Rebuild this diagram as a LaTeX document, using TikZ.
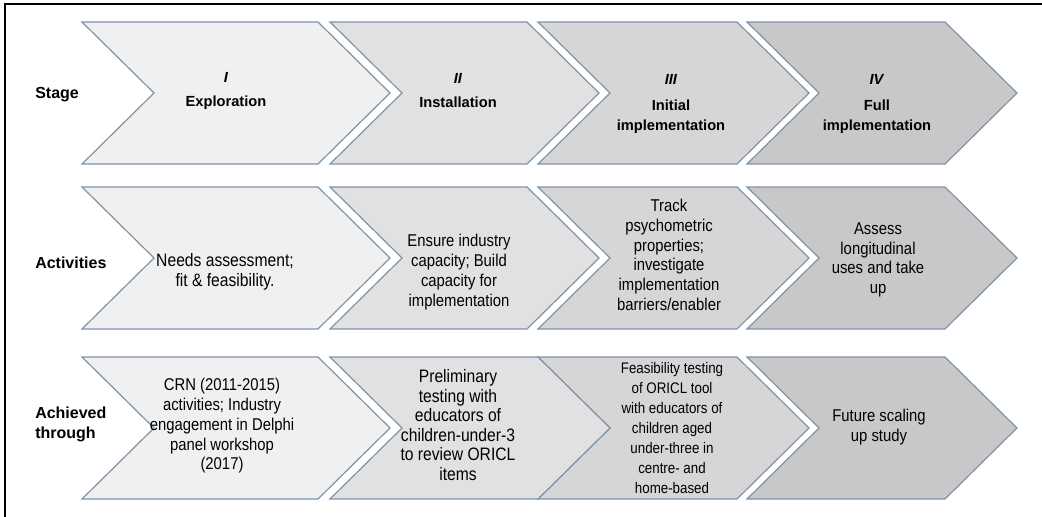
\documentclass[tikz,border=0pt]{standalone}
\usepackage{fontspec}
\setmainfont{Liberation Sans}
\newfontfamily\narrowsans[FakeStretch=0.87]{Liberation Sans}
\definecolor{bordc}{RGB}{127,147,170}
\definecolor{fillA}{RGB}{240,240,240}
\definecolor{fillB}{RGB}{225,225,225}
\definecolor{fillC}{RGB}{214,214,214}
\definecolor{fillD}{RGB}{200,200,200}
\newcommand{\chevshape}[5]{%
  \path[chev, fill=#1] (#2,#4) -- (#3,#4) -- ({#3+72},{(#4+#5)/2}) -- (#3,#5) -- (#2,#5) -- ({#2+72},{(#4+#5)/2}) -- cycle;}
\tikzset{
  chev/.style={draw=bordc, line width=0.9pt, line join=miter},
  lab/.style={font=\bfseries\fontsize{12}{15}\selectfont, anchor=west, align=left, inner sep=0pt},
  stg/.style={font=\bfseries\fontsize{11}{15}\selectfont, align=center, inner sep=0pt},
  txt/.style={font=\narrowsans\fontsize{12.8}{14.8}\selectfont, align=center, inner sep=0pt},
  txtbig/.style={font=\narrowsans\fontsize{13.5}{14.6}\selectfont, align=center, inner sep=0pt},
  txtsm/.style={font=\narrowsans\fontsize{11.5}{15.1}\selectfont, align=center, inner sep=0pt},
}
\begin{document}
\begin{tikzpicture}[x=0.75pt,y=-0.75pt]
\useasboundingbox (0,0) rectangle (1042,517);
\fill[white] (0,0) rectangle (1042,517);
\draw[line width=1.5pt] (5,517) -- (5,4) -- (1042,4);
% Row 1
\chevshape{fillA}{82}{318}{22}{164}
\chevshape{fillB}{330}{527}{22}{164}
\chevshape{fillC}{538}{737}{22}{164}
\chevshape{fillD}{747}{945}{22}{164}
% Row 2
\chevshape{fillA}{82}{318}{187}{329}
\chevshape{fillB}{330}{527}{187}{329}
\chevshape{fillC}{538}{737}{187}{329}
\chevshape{fillD}{747}{945}{187}{329}
% Row 3
\chevshape{fillA}{82}{318}{357}{499}
\chevshape{fillC}{538}{737}{357}{499}
\chevshape{fillB}{330}{538}{357}{499}
\chevshape{fillD}{747}{945}{357}{499}
% Row labels
\node[lab] (lstage) at (35,95) {Stage};
\node[lab] (lact) at (35,263) {Activities};
\node[lab] (lach) at (35,424) {Achieved\\through};
% Stage texts
\node[stg] (s1) at (226,91) {\textit{I}\\[3pt]Exploration};
\node[stg] (s2) at (458,91) {\textit{II}\\[3pt]Installation};
\node[stg] (s3) at (671,104) {\textit{III}\\[5pt]Initial\\implementation};
\node[stg] (s4) at (877,104) {\textit{IV}\\[5pt]Full\\implementation};
% Activities
\node[txtbig] (a1) at (225,272) {Needs assessment;\\fit \& feasibility.};
\node[txt] (a2) at (459,272) {Ensure industry\\capacity; Build\\capacity for\\implementation};
\node[txt] (a3) at (669,255) {Track\\psychometric\\properties;\\investigate\\implementation\\barriers/enabler};
\node[txt] (a4) at (878,260) {Assess\\longitudinal\\uses and take\\up};
% Achieved through
\node[txt] (b1) at (222,426) {CRN (2011-2015)\\activities; Industry\\engagement in Delphi\\panel workshop\\(2017)};
\node[txtbig] (b2) at (458,425) {Preliminary\\testing with\\educators of\\children-under-3\\to review ORICL\\items};
\node[txtsm] (b3) at (672,428) {Feasibility testing\\of ORICL tool\\with educators of\\children aged\\under-three in\\centre- and\\home-based};
\node[txt] (b4) at (879,427) {Future scaling\\up study};
\end{tikzpicture}
\end{document}
